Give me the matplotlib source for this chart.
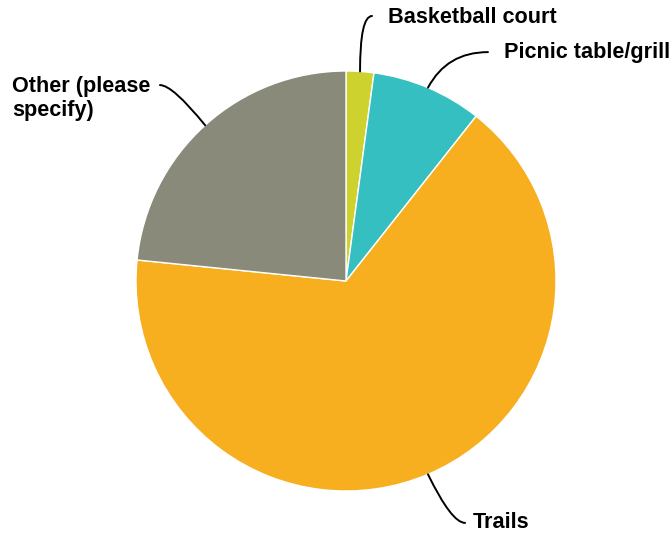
import numpy as np
import matplotlib
matplotlib.use("Agg")
import matplotlib.pyplot as plt

labels = ["Basketball court", "Picnic table/grill", "Trails", "Other (please\nspecify)"]
counts = [1, 4, 31, 11]
colors = ["#CDD22E", "#35BFC0", "#F7AF1F", "#898A79"]

# label anchors and leader ends, in axes units (pie radius = 1)
text_pos = [(0.20, 1.256), (0.752, 1.09), (0.605, -1.152), (-1.59, 0.87)]
line_end = [(0.124, 1.262), (0.676, 1.09), (0.567, -1.152), (-0.886, 0.933)]
edge_angle = [90, 62, -64, -51]

fig = plt.figure(figsize=(6.72, 5.37), dpi=100)
ax = fig.add_axes([136 / 672, 46 / 537, 420 / 672, 420 / 537])

wedges, _ = ax.pie(counts, colors=colors, startangle=90, counterclock=False,
                   radius=1, wedgeprops=dict(edgecolor="white", linewidth=1))
ax.set_xlim(-1, 1)
ax.set_ylim(-1, 1)
ax.set_aspect("equal")
ax.axis("off")

for w, lab, tp, le, ang in zip(wedges, labels, text_pos, line_end, edge_angle):
    mid = np.deg2rad((w.theta1 + w.theta2) / 2)
    edge = (np.cos(mid), np.sin(mid))
    ax.annotate("", xy=edge, xytext=le, annotation_clip=False,
                arrowprops=dict(arrowstyle="-", color="black", lw=1.4,
                                shrinkA=0, shrinkB=0,
                                connectionstyle=f"angle3,angleA=0,angleB={ang}"))
    ax.text(tp[0], tp[1], lab, ha="left", va="center", fontsize=15.6,
            fontweight="bold", family="Liberation Sans", linespacing=1.2,
            clip_on=False)

fig.savefig("out.png", dpi=100)
